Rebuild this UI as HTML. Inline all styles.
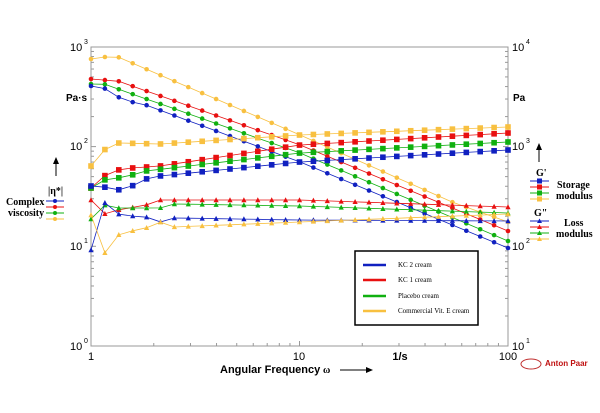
<!DOCTYPE html>
<html><head><meta charset="utf-8"><style>
body{margin:0;background:#fff;width:600px;height:413px;overflow:hidden}
svg{display:block;font-family:"Liberation Sans",sans-serif}
.s{font-family:"Liberation Serif",serif;font-weight:bold;font-size:10px}
</style></head><body>
<svg id="c" width="600" height="413" xmlns="http://www.w3.org/2000/svg">
<rect x="91" y="47" width="417" height="299" fill="none" stroke="#999" stroke-width="1"/>
<g font-size="11" fill="#000">
<text x="70" y="51">10</text><text x="84" y="44" font-size="7">3</text>
<text x="70" y="150">10</text><text x="84" y="143" font-size="7">2</text>
<text x="70" y="250">10</text><text x="84" y="243" font-size="7">1</text>
<text x="70" y="350">10</text><text x="84" y="343" font-size="7">0</text>
<text x="512" y="51">10</text><text x="526" y="44" font-size="7">4</text>
<text x="512" y="150">10</text><text x="526" y="143" font-size="7">3</text>
<text x="512" y="250">10</text><text x="526" y="243" font-size="7">2</text>
<text x="512" y="350">10</text><text x="526" y="343" font-size="7">1</text>
<text x="91" y="360" text-anchor="middle">1</text>
<text x="299" y="360" text-anchor="middle">10</text>
<text x="508" y="360" text-anchor="middle">100</text>
<text x="400" y="360" text-anchor="middle" font-weight="bold">1/s</text>
<text x="220" y="373" font-weight="bold">Angular Frequency</text>
<text x="323" y="373" class="s" font-size="11">ω</text>
<text x="66" y="101" font-weight="bold" font-size="10">Pa·s</text>
<text x="513" y="101" font-weight="bold" font-size="10">Pa</text>
</g>
<line x1="340" y1="370" x2="366" y2="370" stroke="#000"/><polygon points="366,367 373,370 366,373"/>
<line x1="56" y1="176" x2="56" y2="163" stroke="#000"/><polygon points="53,164 56,157 59,164"/>
<line x1="539" y1="162" x2="539" y2="149" stroke="#000"/><polygon points="536,150 539,143 542,150"/>
<text x="48" y="194" class="s">|η*|</text>
<text x="6" y="205" class="s">Complex</text>
<text x="8" y="216" class="s">viscosity</text>
<text x="536" y="176" class="s">G'</text>
<text x="557" y="188" class="s">Storage</text>
<text x="556" y="199" class="s">modulus</text>
<text x="534" y="216" class="s">G"</text>
<text x="564" y="226" class="s">Loss</text>
<text x="556" y="237" class="s">modulus</text>
<rect x="355" y="251" width="123" height="74" fill="#fff" stroke="#000" stroke-width="1.5"/>
<g stroke-width="2.5"><line x1="363" y1="265" x2="386" y2="265" stroke="#1020c0"/>
<line x1="363" y1="280" x2="386" y2="280" stroke="#e81010"/>
<line x1="363" y1="296" x2="386" y2="296" stroke="#10b010"/>
<line x1="363" y1="311" x2="386" y2="311" stroke="#f8c040"/></g>
<g font-family="Liberation Serif,serif" font-size="7">
<text x="398" y="267">KC 2 cream</text><text x="398" y="282">KC 1 cream</text>
<text x="398" y="298">Placebo cream</text><text x="398" y="313">Commercial Vit. E cream</text></g>
<text x="545" y="366" font-size="8" font-weight="bold" fill="#c01010">Anton Paar</text>
<ellipse cx="531" cy="364" rx="10" ry="5" fill="none" stroke="#c03030"/>
<g id="d"></g>
</svg>
<script>
var C=['#1020c0','#e81010','#10b010','#f8c040'];
var ser=[
[3,'c',[[91,59],[104,57],[118,57],[132,63],[300,135],[452,202],[508,222]]],
[1,'c',[[91,79],[104,80],[118,81],[300,145],[508,231]]],
[2,'c',[[91,84],[104,84],[118,89],[300,153],[508,241]]],
[0,'c',[[91,86],[104,88],[118,97],[132,102],[146,105],[300,162],[508,248]]],
[3,'s',[[91,166],[104,150],[118,143],[160,144],[300,135],[508,127]]],
[1,'s',[[91,188],[104,176],[118,170],[132,168],[160,166],[300,145],[508,133]]],
[2,'s',[[91,188],[104,180],[118,178],[132,175],[146,171],[300,153],[508,142]]],
[0,'s',[[91,186],[104,187],[118,190],[132,186],[146,179],[160,176],[300,162],[508,150]]],
[1,'t',[[91,200],[104,214],[118,210],[146,205],[160,200],[300,200],[508,207]]],
[2,'t',[[91,219],[104,205],[118,208],[160,208],[174,204],[300,206],[508,213]]],
[0,'t',[[91,250],[104,202],[118,214],[132,216],[146,217],[160,222],[174,218],[300,220],[508,221]]],
[3,'t',[[91,215],[104,254],[118,235],[132,231],[146,228],[160,222],[174,227],[300,222],[508,214]]]];
function iy(k,x){for(var i=0;i<k.length-1;i++){if(x<=k[i+1][0]+0.01){var a=k[i],b=k[i+1];return a[1]+(b[1]-a[1])*(x-a[0])/(b[0]-a[0]);}}return k[k.length-1][1];}
var h='';
// ticks
for(var d=0;d<2;d++)for(var m=1;m<10;m++){var x=91+(d+Math.log10(m))*208.5;h+='<line x1="'+x+'" y1="346" x2="'+x+'" y2="'+(m==1?341:343)+'" stroke="#999"/>';}
for(var d=0;d<3;d++)for(var m=1;m<10;m++){var y=346-(d+Math.log10(m))*99.7;var l=m==1?5:3;h+='<line x1="91" y1="'+y+'" x2="'+(91+l)+'" y2="'+y+'" stroke="#999"/><line x1="508" y1="'+y+'" x2="'+(508-l)+'" y2="'+y+'" stroke="#999"/>';}
ser.forEach(function(s){var c=C[s[0]],p=[],mk='';for(var i=0;i<31;i++){var x=91+i*417/30,y=iy(s[2],x);p.push(x.toFixed(1)+','+y.toFixed(1));
if(s[1]=='c')mk+='<circle cx="'+x+'" cy="'+y+'" r="2.3" fill="'+c+'"/>';else if(s[1]=='s')mk+='<rect x="'+(x-2.8)+'" y="'+(y-2.8)+'" width="5.6" height="5.6" fill="'+c+'"/>';else mk+='<polygon points="'+(x-2.6)+','+(y+2.2)+' '+(x+2.6)+','+(y+2.2)+' '+x+','+(y-2.8)+'" fill="'+c+'"/>';}
h+='<polyline points="'+p.join(' ')+'" fill="none" stroke="'+c+'" stroke-width="0.8"/>'+mk;});
// side legends
[0,1,2,3].forEach(function(i){var y=201+i*6;h+='<line x1="46" y1="'+y+'" x2="64" y2="'+y+'" stroke="'+C[i]+'"/><circle cx="55" cy="'+y+'" r="2" fill="'+C[i]+'"/>';
var y2=181+i*6;h+='<line x1="530" y1="'+y2+'" x2="549" y2="'+y2+'" stroke="'+C[i]+'"/><rect x="537" y="'+(y2-2.5)+'" width="5" height="5" fill="'+C[i]+'"/>';
var y3=221+i*6;h+='<line x1="530" y1="'+y3+'" x2="549" y2="'+y3+'" stroke="'+C[i]+'"/><polygon points="537,'+(y3+2)+' 542,'+(y3+2)+' 539.5,'+(y3-2.5)+'" fill="'+C[i]+'"/>';});
document.getElementById('d').innerHTML=h;
</script>
</body></html>
